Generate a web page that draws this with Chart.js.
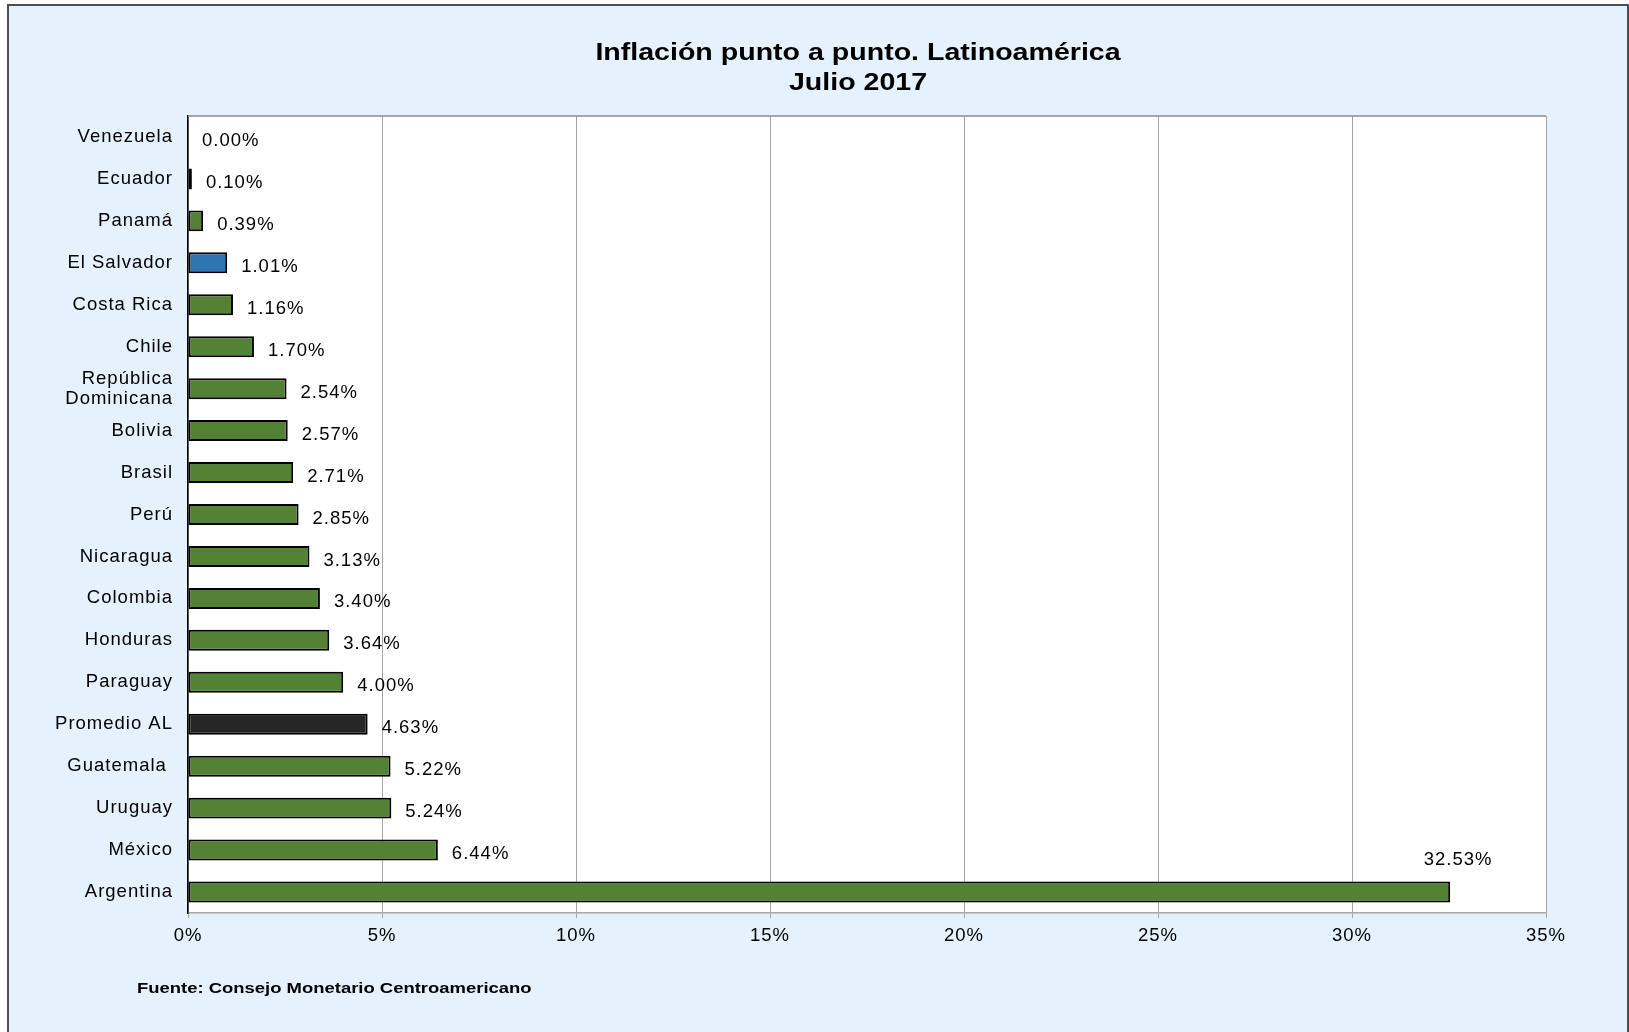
<!DOCTYPE html>
<html lang="es">
<head>
<meta charset="utf-8">
<title>Inflación punto a punto. Latinoamérica</title>
<script src="https://cdn.jsdelivr.net/npm/chart.js@4.4.1/dist/chart.umd.min.js"></script>
<style>
    html, body { margin: 0; padding: 0; width: 1629px; height: 1032px; overflow: hidden; background: #fff; }
    .frame { position: absolute; left: 7px; top: 4px; width: 1618px; height: 1100px; border: 2px solid #4d4d4d; background: #e5f1fc; }
    .title { position: absolute; left: 858px; top: 37px; transform: translateX(-50%) scaleX(1.19); font: bold 24px "Liberation Sans", Arial, sans-serif; line-height: 30px; text-align: center; white-space: nowrap; color: #000; }
    .source { position: absolute; left: 137px; top: 979px; transform: scaleX(1.19); transform-origin: left center; font: bold 15.5px "Liberation Sans", Arial, sans-serif; line-height: 18px; white-space: nowrap; color: #000; }
    #inflationChart { position: absolute; left: 0; top: 0; }
</style>
</head>
<body>
<div class="frame"></div>
<canvas id="inflationChart" width="1629" height="1032"></canvas>
<div class="title">Inflación punto a punto. Latinoamérica<br>Julio 2017</div>
<div class="source">Fuente: Consejo Monetario Centroamericano</div>

<script>
// data
const categories = ['Venezuela', 'Ecuador', 'Panamá', 'El Salvador', 'Costa Rica', 'Chile', ['República', 'Dominicana'],
    'Bolivia', 'Brasil', 'Perú', 'Nicaragua', 'Colombia', 'Honduras', 'Paraguay', 'Promedio AL', 'Guatemala ',
    'Uruguay', 'México', 'Argentina'];
const inflation = [0.00, 0.10, 0.39, 1.01, 1.16, 1.70, 2.54, 2.57, 2.71, 2.85, 3.13, 3.40, 3.64, 4.00, 4.63, 5.22, 5.24, 6.44, 32.53];
const xTicks = [0, 5, 10, 15, 20, 25, 30, 35];

document.addEventListener('DOMContentLoaded', function() {
    const font = { family: '"Liberation Sans", Arial, sans-serif', size: 18.5, lineHeight: 1.1 };

    // El Salvador blue, average dark, the rest green
    const barColors = categories.map(name => {
        if (name === 'El Salvador') return '#2e75b6';
        if (name === 'Promedio AL') return '#262626';
        return '#548235';
    });

    // white plot area, top border, wider letters like the original
    const plotArea = {
        id: 'plotArea',
        beforeDraw(chart) {
            const { ctx, chartArea: a } = chart;
            ctx.save();
            ctx.fillStyle = '#fff';
            ctx.fillRect(a.left, a.top, a.width, a.height);
            ctx.restore();
            ctx.letterSpacing = '1px';
        },
        afterDraw(chart) {
            const { ctx, chartArea: a } = chart;
            ctx.save();
            ctx.strokeStyle = '#8c8c8c';
            ctx.lineWidth = 1.5;
            ctx.beginPath();
            ctx.moveTo(a.left, a.top);
            ctx.lineTo(a.right, a.top);
            ctx.stroke();
            ctx.restore();
        }
    };

    // value labels
    const valueLabels = {
        id: 'valueLabels',
        afterDatasetsDraw(chart) {
            const { ctx, chartArea } = chart;
            const meta = chart.getDatasetMeta(0);
            ctx.save();
            ctx.font = '18.5px "Liberation Sans", Arial, sans-serif';
            ctx.fillStyle = '#000';
            ctx.textBaseline = 'middle';
            meta.data.forEach((bar, i) => {
                const text = inflation[i].toFixed(2) + '%';
                if (bar.x > chartArea.left + chartArea.width * 0.8) {
                    ctx.textAlign = 'center';
                    ctx.fillText(text, bar.x + 8, bar.y - 32);
                } else {
                    ctx.textAlign = 'left';
                    ctx.fillText(text, bar.x + 14, bar.y + 4);
                }
            });
            ctx.restore();
        }
    };

    const ctx = document.getElementById('inflationChart').getContext('2d');
    new Chart(ctx, {
        type: 'bar',
        data: {
            labels: categories,
            datasets: [{
                data: inflation,
                backgroundColor: barColors,
                borderColor: '#000',
                borderWidth: 2,
                borderSkipped: false,
                barPercentage: 0.5,
                categoryPercentage: 1
            }]
        },
        options: {
            indexAxis: 'y',
            responsive: false,
            animation: false,
            layout: { padding: { left: 0, right: 83, top: 116, bottom: 79 } },
            plugins: {
                legend: { display: false },
                title: { display: false },
                tooltip: { enabled: false }
            },
            scales: {
                x: {
                    min: xTicks[0],
                    max: xTicks[xTicks.length - 1],
                    afterBuildTicks(scale) {
                        scale.ticks = xTicks.map(v => ({ value: v }));
                    },
                    afterFit(scale) { scale.height = 40; },
                    grid: { color: '#a6a6a6', lineWidth: 1, tickLength: 5 },
                    border: { color: '#a6a6a6', width: 1.5 },
                    ticks: {
                        font: font,
                        color: '#000',
                        padding: 8,
                        maxRotation: 0,
                        callback: v => v + '%'
                    }
                },
                y: {
                    afterFit(scale) { scale.width = 188; },
                    grid: { display: false, drawTicks: false },
                    border: { color: '#000', width: 1.5 },
                    ticks: { font: font, color: '#000', padding: 15, autoSkip: false }
                }
            }
        },
        plugins: [plotArea, valueLabels]
    });
});
</script>
</body>
</html>
